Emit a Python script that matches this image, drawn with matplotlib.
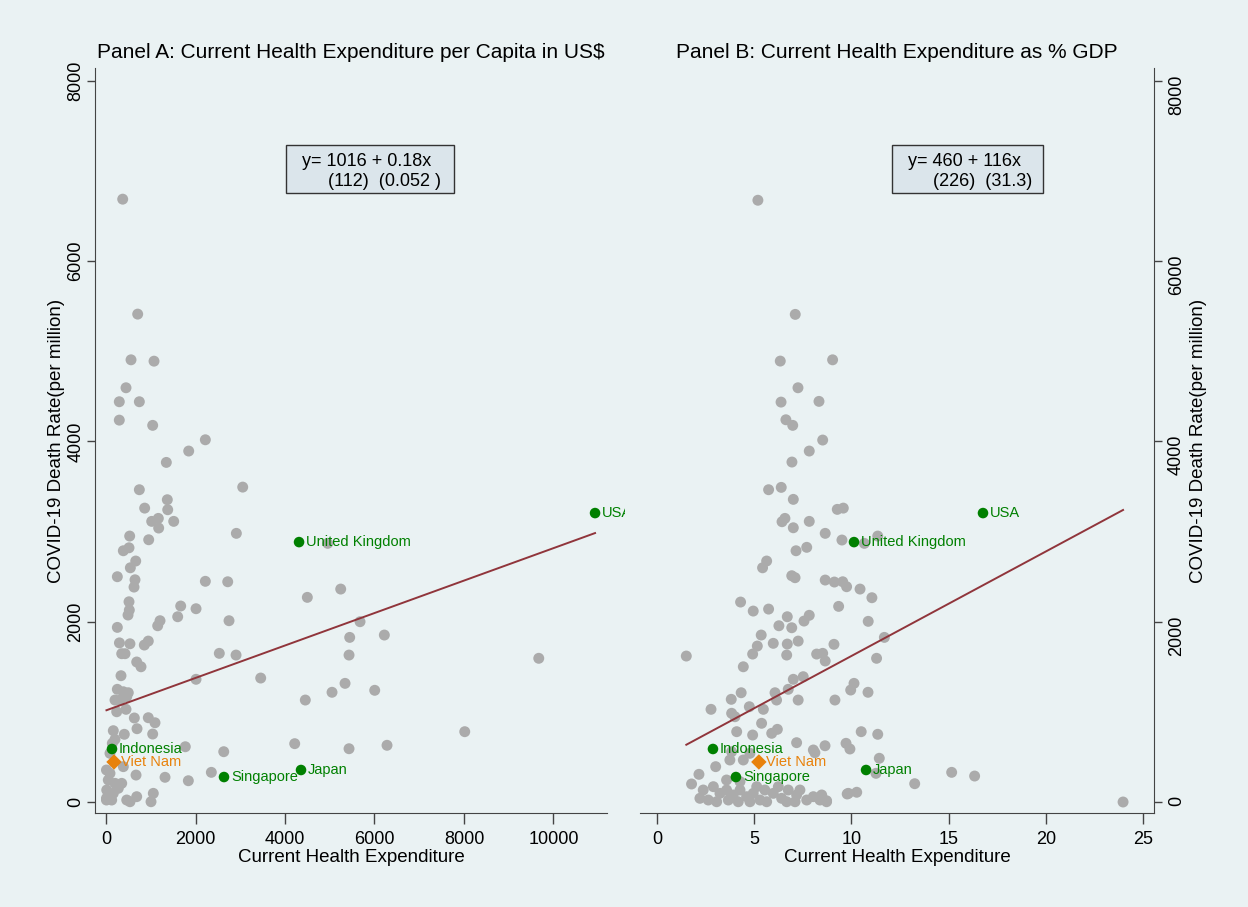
import matplotlib.pyplot as plt
from matplotlib.patches import Rectangle
from matplotlib.transforms import Bbox, TransformedBbox

plt.rcParams['font.family'] = ['Liberation Sans', 'DejaVu Sans']

"""
    Data read off the two panels (y = COVID-19 deaths per million)
"""
# Panel A: health expenditure per capita (US$)
xa = [373, 708, 559, 1073, 447, 297, 745, 297, 1043, 2220, 1848, 1348, 745, 3055, 1370,
      864, 1379, 1021, 1169, 1177, 1513, 529, 954, 2913, 387, 514, 664, 544, 253, 648,
      626, 2220, 2720, 514, 521, 492, 1669, 2012, 1602, 1207, 1155, 2749, 253,
      300, 535, 351, 425, 856, 945, 2532, 2906, 686, 782, 335, 2012, 3457,
      253, 387, 498, 201, 313, 463, 239, 447, 633, 945, 1095, 693, 1043, 163, 409, 201,
      141, 1772, 2631, 2354, 671, 1319, 1840, 51, 201, 351, 16, 163, 275, 10, 127, 51,
      463, 536, 686, 1057, 1006, 89, 10, 89, 10, 387,
      4955, 4499, 5245, 5677, 5446, 6220, 5431, 9671, 5342, 5051, 6005, 4454, 8017,
      4217, 5431, 6280]
ya = [6687, 5412, 4905, 4890, 4595, 4440, 4440, 4236, 4178, 4018, 3893, 3767, 3464, 3493, 3353,
      3260, 3242, 3113, 3146, 3039, 3113, 2950, 2909, 2980, 2787, 2820, 2673, 2598, 2499, 2465,
      2384, 2448, 2443, 2221, 2129, 2074, 2174, 2144, 2055, 2011, 1955, 2011, 1937,
      1765, 1755, 1645, 1645, 1741, 1785, 1649, 1630, 1553, 1500, 1401, 1361, 1375,
      1250, 1223, 1212, 1131, 1131, 1168, 1001, 1028, 932, 935, 879, 813, 754, 791, 751, 695,
      651, 613, 558, 329, 299, 274, 236, 244, 207, 207, 133, 96, 152, 22, 22, 78,
      22, 3, 59, 96, 3, 318, 41, 540, 355, 392,
      2869, 2270, 2362, 2000, 1826, 1852, 1630, 1594, 1316, 1217, 1239, 1131, 780,
      647, 591, 629]

# Panel B: health expenditure as % of GDP
xb = [5.19, 7.11, 6.34, 9.03, 7.25, 6.38, 8.33, 6.63, 6.98, 8.52, 7.83, 6.94, 5.74, 6.39, 7.01,
      9.27, 9.58, 6.43, 6.58, 7.01, 7.83, 8.65, 9.51, 11.35, 10.66, 7.15, 7.70, 5.64, 5.43,
      6.93, 7.10, 8.65, 9.12, 9.55, 9.75, 10.44, 11.05, 4.30, 4.95, 5.74, 9.34, 6.70, 6.27,
      6.93, 7.83, 7.56, 10.86, 5.36, 5.98, 5.16, 4.92, 6.70, 6.67, 7.26, 9.10, 8.21, 8.52,
      8.65, 4.44, 1.51, 11.29, 11.69,
      10.13, 9.96, 10.85, 9.15, 10.50, 11.35, 8.64, 9.72, 9.92, 11.43, 11.26, 15.15, 16.33,
      13.25, 9.78, 10.27, 23.96, 8.47, 8.72,
      7.01, 7.52, 4.33, 3.82, 6.07, 6.15, 6.75, 7.26, 2.78, 3.84, 4.01, 4.75, 5.47, 5.38,
      4.10, 4.92, 5.90, 6.19, 7.18, 8.04, 8.12, 3.75, 3.84, 4.44, 4.78, 3.02, 2.16, 1.78,
      2.38, 2.90, 3.24, 3.58, 3.92, 4.27, 4.61, 4.95, 2.21, 2.64, 3.07, 3.67, 4.18, 4.78,
      5.30, 5.64, 5.98, 6.41, 6.67, 7.10, 7.35, 7.70, 8.04, 8.38, 8.72, 5.13, 5.55, 6.24,
      6.75, 7.18, 9.84, 3.58, 4.27]
yb = [6675, 5409, 4891, 4905, 4595, 4436, 4444, 4240, 4178, 4015, 3893, 3771, 3464, 3490, 3357,
      3246, 3260, 3109, 3146, 3042, 3113, 2980, 2906, 2950, 2869, 2787, 2825, 2673, 2598,
      2510, 2488, 2462, 2440, 2443, 2388, 2362, 2266, 2218, 2118, 2140, 2170, 2055, 1955,
      1933, 2071, 2007, 2004, 1852, 1760, 1730, 1641, 1752, 1630, 1785, 1749, 1641, 1649,
      1564, 1500, 1619, 1594, 1826,
      1316, 1242, 1217, 1131, 780, 751, 624, 651, 588, 485, 318, 329, 288,
      203, 89, 108, 0, 78, 14,
      1361, 1390, 1212, 1139, 1212, 1131, 1250, 1131, 1028, 984, 946, 1057, 1028, 873,
      780, 743, 762, 806, 658, 577, 547, 466, 558, 466, 540, 392, 307, 200,
      133, 170, 96, 133, 78, 133, 59, 96, 41, 22, 3, 22, 3, 3,
      22, 3, 96, 41, 3, 3, 133, 22, 59, 22, 3, 170, 133, 170,
      133, 78, 96, 244, 226]

# highlighted countries
hl_names = ["USA", "United Kingdom", "Japan", "Singapore", "Indonesia"]
hl_xa = [10929, 4314, 4358, 2637, 134]
hl_xb = [16.76, 10.13, 10.75, 4.06, 2.88]
hl_y = [3205, 2883, 355, 277, 588]

vn_name = "Viet Nam"
vn_xa = 179
vn_xb = 5.24
vn_y = 444

# linear fits: intercept, slope and the standard errors shown in the boxes
fit_a = (1016, 0.18)
fit_b = (460, 116)
eq_a = ["y= 1016 + 0.18x", "(112)  (0.052 )"]
eq_b = ["y= 460 + 116x", "(226)  (31.3)"]

titles = ["Panel A: Current Health Expenditure per Capita in US$",
          "Panel B: Current Health Expenditure as % GDP"]
yticks = [0, 2000, 4000, 6000, 8000]

"""
    Styling
"""
bg = "#eaf2f3"
grey = "#ababab"
green = "#008000"
orange = "#e8820c"
maroon = "#90353b"
axcol = "#444444"

fig = plt.figure(figsize=(12.48, 9.07), dpi=100, facecolor=bg)
W, H = 1248, 907
axA = fig.add_axes([95 / W, (H - 813) / H, 512 / W, 745 / H], facecolor=bg)
axB = fig.add_axes([640 / W, (H - 813) / H, 514 / W, 745 / H], facecolor=bg)


def draw_panel(ax, xs, ys, hx, vx, fit, eq, box, title, xlim, xticks, ypad, ylabpad):
    ax.scatter(xs, ys, s=62, color=grey, edgecolors="none", zorder=2)

    x0, x1 = min(xs + hx + [vx]), max(xs + hx + [vx])
    ax.plot([x0, x1], [fit[0] + fit[1] * x0, fit[0] + fit[1] * x1],
            color=maroon, lw=1.4, zorder=3)

    ax.scatter(hx, hl_y, s=58, color=green, edgecolors="none", zorder=4)
    ax.scatter([vx], [vn_y], s=62, marker="D", color=orange, edgecolors="none", zorder=4)

    labels = []
    for name, x, y in zip(hl_names, hx, hl_y):
        t = ax.annotate(name, (x, y), xytext=(5, 0), textcoords="offset points",
                        va="center", ha="left", fontsize=10.5, color=green, zorder=5)
        labels.append(t)
    ax.annotate(vn_name, (vx, vn_y), xytext=(5, 0), textcoords="offset points",
                va="center", ha="left", fontsize=10.5, color=orange, zorder=5)

    # regression box
    bx0, bx1, tx1, tx2 = box
    ax.add_patch(Rectangle((bx0, 0.832), bx1 - bx0, 0.065, transform=ax.transAxes,
                           facecolor="#dbe5eb", edgecolor="#333333", lw=1, zorder=5))
    ax.text(tx1, 0.875, eq[0], transform=ax.transAxes, ha="left", va="center",
            fontsize=13, zorder=6)
    ax.text(tx2, 0.848, eq[1], transform=ax.transAxes, ha="left", va="center",
            fontsize=13, zorder=6)

    ax.set_xlim(*xlim)
    ax.set_ylim(-122, 8142)
    ax.set_xticks(xticks)
    ax.set_yticks(yticks)
    ax.set_title(title, fontsize=15, pad=7)
    ax.set_xlabel("Current Health Expenditure", fontsize=13.5, labelpad=0.5)
    ax.set_ylabel("COVID-19 Death Rate(per million)", fontsize=13.5, labelpad=ylabpad)
    ax.tick_params(axis="x", length=8, width=1, color=axcol, labelsize=13, pad=5)
    ax.tick_params(axis="y", length=6, width=1, color=axcol, labelsize=13,
                   labelrotation=90, pad=ypad)
    for lab in ax.get_yticklabels():
        lab.set_va("center")
    for side in ["top", "right", "left", "bottom"]:
        ax.spines[side].set_color(axcol)
    ax.spines["top"].set_visible(False)
    return labels


labsA = draw_panel(axA, xa, ya, hl_xa, vn_xa, fit_a, eq_a, (0.373, 0.701, 0.404, 0.4545),
                   titles[0], (-246, 11196), [0, 2000, 4000, 6000, 8000, 10000], 1.5, 1.5)
axA.spines["right"].set_visible(False)

# USA label is cut off at the edge of the plot region
clip = TransformedBbox(Bbox([[0, 0], [625 / W, 1]]), fig.transFigure)
labsA[0].set_clip_box(clip)
labsA[0].set_clip_on(True)

draw_panel(axB, xb, yb, hl_xb, vn_xb, fit_b, eq_b, (0.490, 0.784, 0.521, 0.5695),
           titles[1], (-0.87, 25.55), [0, 5, 10, 15, 20, 25], 4, 4)
axB.spines["left"].set_visible(False)
axB.yaxis.tick_right()
axB.yaxis.set_label_position("right")
axB.tick_params(axis="y", left=False, right=True)

fig.savefig("out.png", dpi=100, facecolor=bg)
